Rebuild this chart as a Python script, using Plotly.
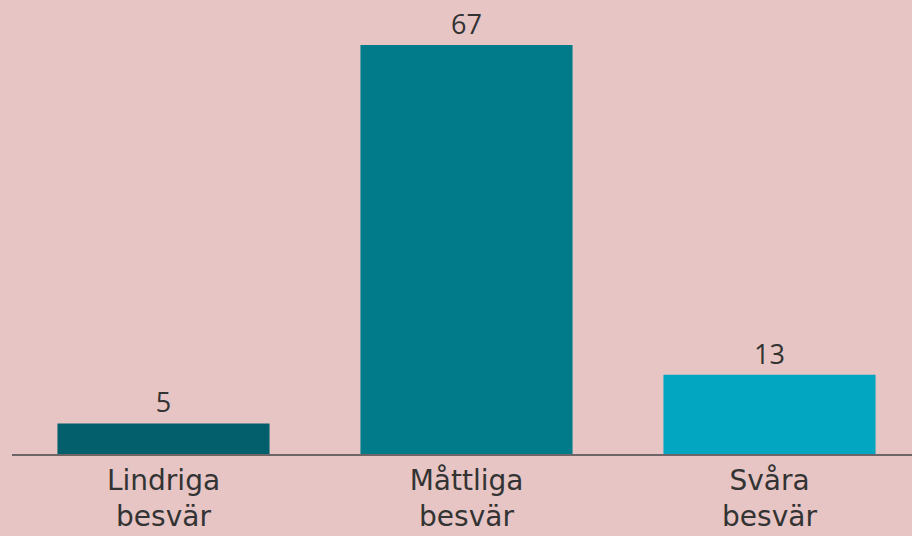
import plotly.graph_objects as go

# Share of respondents per severity level
categories = ["Lindriga<br>besvär", "Måttliga<br>besvär", "Svåra<br>besvär"]
values = [5, 67, 13]
bar_colors = ["#035F6B", "#017B8A", "#02A6C0"]

BG = "#E6C5C4"
FONT = "Open Sans, sans-serif"
TICK_FONT = "DejaVu Sans, sans-serif"

fig = go.Figure(
    go.Bar(
        x=categories,
        y=values,
        marker=dict(color=bar_colors, line=dict(width=0)),
        text=[str(v) for v in values],
        textposition="outside",
        textfont=dict(family=FONT, size=27, color="#333333"),
        cliponaxis=False,
        width=0.7,
    )
)

fig.update_layout(
    width=912,
    height=536,
    paper_bgcolor=BG,
    plot_bgcolor=BG,
    margin=dict(l=12, r=0, t=0, b=82, autoexpand=False),
    showlegend=False,
    bargap=0.3,
    uniformtext=dict(minsize=27, mode="show"),
    xaxis=dict(
        range=[-0.5, -0.5 + 900 / 303],
        automargin=False,
        showline=True,
        linecolor="#6E6566",
        linewidth=2,
        showgrid=False,
        ticks="",
        tickfont=dict(family=TICK_FONT, size=28, color="#333333"),
    ),
    yaxis=dict(
        range=[0, 454 / 6.104],
        visible=False,
        automargin=False,
        showgrid=False,
        zeroline=False,
    ),
)

fig.write_html("out.html")
